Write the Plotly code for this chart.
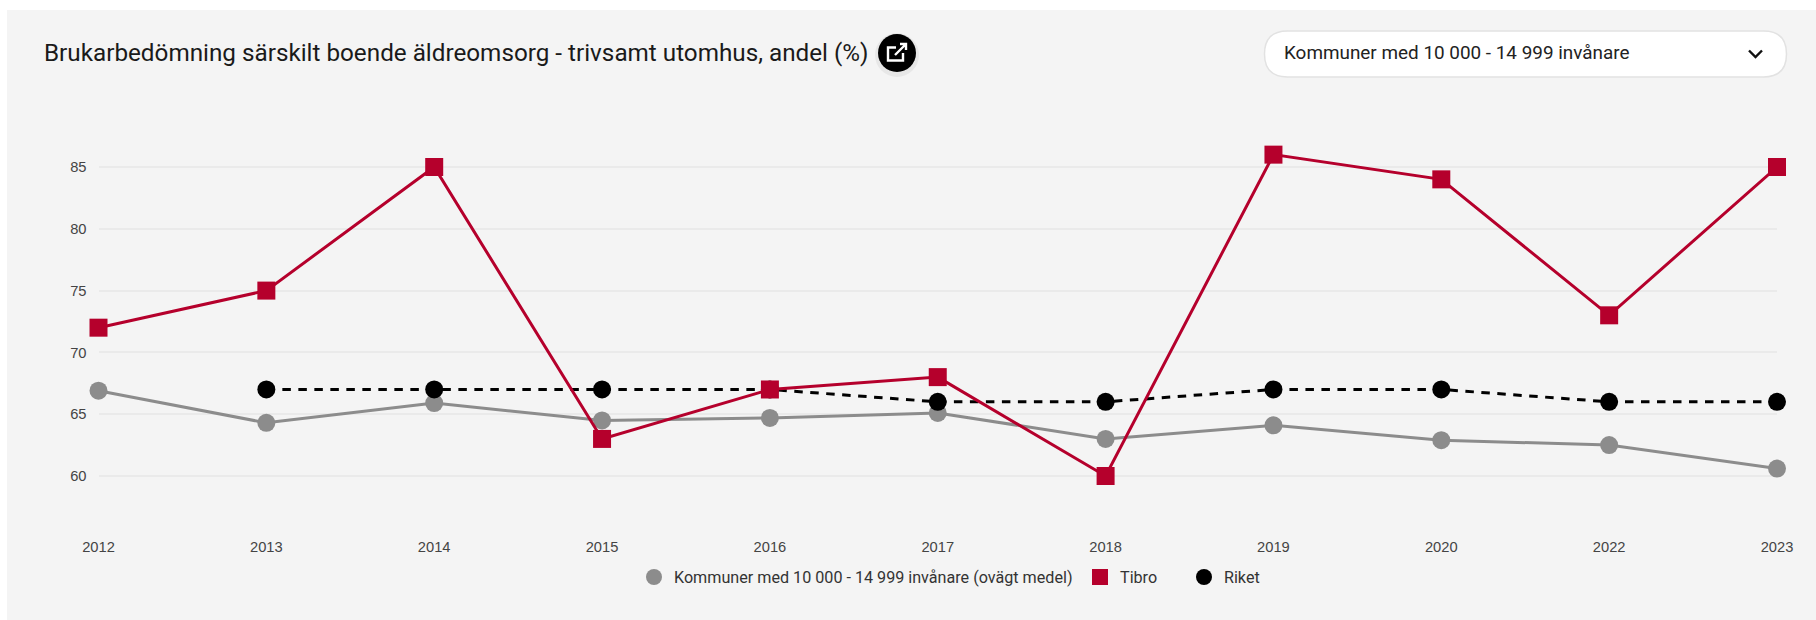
import plotly.graph_objects as go

W, H = 1816, 620
years = ["2012", "2013", "2014", "2015", "2016", "2017", "2018", "2019", "2020", "2022", "2023"]
kommuner = [66.9, 64.3, 65.9, 64.5, 64.7, 65.1, 63.0, 64.1, 62.9, 62.5, 60.6]
tibro = [72, 75, 85, 63, 67, 68, 60, 86, 84, 73, 85]
riket = [None, 67, 67, 67, 67, 66, 66, 67, 67, 66, 66]
y_ticks = [60, 65, 70, 75, 80, 85]
title_text = "Brukarbedömning särskilt boende äldreomsorg - trivsamt utomhus, andel (%)"
dropdown_text = "Kommuner med 10 000 - 14 999 invånare"
legend_k = "Kommuner med 10 000 - 14 999 invånare (ovägt medel)"
legend_t = "Tibro"
legend_r = "Riket"

GREY, RED, BLACK = "#8c8c8c", "#b5002c", "#000000"


def px(x):
    return x / W


def py(y):
    return 1 - y / H


def P(*pts):
    """Build an SVG path in paper space from pixel points; strings pass through."""
    out = []
    for p in pts:
        if isinstance(p, str):
            out.append(p)
        else:
            out.append(f"{px(p[0]):.6f},{py(p[1]):.6f}")
    return " ".join(out)


def rrect(x0, y0, x1, y1, r):
    return P("M", (x0 + r, y0), "L", (x1 - r, y0), "Q", (x1, y0), (x1, y0 + r), "L", (x1, y1 - r),
             "Q", (x1, y1), (x1 - r, y1), "L", (x0 + r, y1), "Q", (x0, y1), (x0, y1 - r),
             "L", (x0, y0 + r), "Q", (x0, y0), (x0 + r, y0), "Z")


fig = go.Figure()
fig.add_trace(go.Scatter(x=years, y=kommuner, mode="lines+markers", showlegend=False, cliponaxis=False,
                         line=dict(color=GREY, width=3), marker=dict(color=GREY, size=18, symbol="circle")))
fig.add_trace(go.Scatter(x=years, y=riket, mode="lines+markers", showlegend=False, connectgaps=False, cliponaxis=False,
                         line=dict(color=BLACK, width=3, dash="8.5px,7.5px"),
                         marker=dict(color=BLACK, size=18, symbol="circle")))
fig.add_trace(go.Scatter(x=years, y=tibro, mode="lines+markers", showlegend=False, cliponaxis=False,
                         line=dict(color=RED, width=3), marker=dict(color=RED, size=18, symbol="square")))
for name, color, sym, lg in [(legend_k, GREY, "circle", "legend"), (legend_t, RED, "square", "legend2"),
                             (legend_r, BLACK, "circle", "legend3")]:
    fig.add_trace(go.Scatter(x=[None], y=[None], mode="markers", name=name, legend=lg,
                             marker=dict(color=color, size=16, symbol=sym)))

shapes = [
    dict(type="rect", xref="paper", yref="paper", x0=px(7), x1=px(W), y0=py(H), y1=py(10),
         fillcolor="#f4f4f4", line_width=0, layer="below"),
    dict(type="path", xref="paper", yref="paper", path=rrect(1264.5, 31, 1786.5, 77, 23),
         fillcolor="#ffffff", line=dict(color="#e2e2e2", width=1.5), layer="below"),
    dict(type="path", xref="paper", yref="paper", path=P("M", (1749, 50.5), "L", (1755.5, 57), "L", (1762, 50.5)),
         line=dict(color="#111111", width=2.4)),
    dict(type="circle", xref="paper", yref="paper", x0=px(875), x1=px(919), y0=py(77), y1=py(33),
         fillcolor="rgba(0,0,0,0.05)", line_width=0),
    dict(type="circle", xref="paper", yref="paper", x0=px(878), x1=px(916), y0=py(72), y1=py(34),
         fillcolor="#000000", line_width=0),
    dict(type="path", xref="paper", yref="paper",
         path=P("M", (896, 47.5), "L", (888, 47.5), "L", (888, 60.5), "L", (903, 60.5), "L", (903, 53)),
         line=dict(color="#ffffff", width=2.4)),
    dict(type="path", xref="paper", yref="paper",
         path=P("M", (895, 55), "L", (906, 44), "M", (900, 44), "L", (906, 44), "L", (906, 50)),
         line=dict(color="#ffffff", width=2.4)),
]

annotations = [
    dict(text=title_text, xref="paper", yref="paper", x=px(42), y=py(53), xanchor="left", yanchor="middle",
         showarrow=False, font=dict(family="Roboto", size=24.25, color="#1a1a1a")),
    dict(text=dropdown_text, xref="paper", yref="paper", x=px(1282), y=py(53), xanchor="left", yanchor="middle",
         showarrow=False, font=dict(family="Roboto", size=18.9, color="#222222")),
]


def legend_at(x):
    return dict(orientation="h", x=px(x), y=py(577), xanchor="left", yanchor="middle",
                bgcolor="rgba(0,0,0,0)", itemsizing="trace", itemwidth=30,
                font=dict(family="Roboto", size=16.15, color="#333333"))


fig.update_layout(
    width=W, height=H, margin=dict(l=0, r=0, t=0, b=0),
    paper_bgcolor="#ffffff", plot_bgcolor="rgba(0,0,0,0)",
    shapes=shapes, annotations=annotations,
    font=dict(family="Liberation Sans", size=14, color="#444444"),
    legend=legend_at(634), legend2=legend_at(1080), legend3=legend_at(1184),
    xaxis=dict(type="category", categoryorder="array", categoryarray=years, range=[0, 10],
               domain=[px(98.5), px(1777)], showgrid=False, zeroline=False, showline=False, ticks="",
               tickfont=dict(size=14.7, color="#444444"), automargin=False, ticklabelstandoff=-2),
    yaxis=dict(range=[55, 90], domain=[py(537.8), py(105.2)], tickvals=y_ticks,
               showgrid=True, gridcolor="#eaeaea", gridwidth=2, zeroline=False, showline=False, ticks="",
               tickfont=dict(size=14.7, color="#444444"), automargin=False, ticklabelstandoff=11),
)

fig.write_html("out.html", config=dict(displayModeBar=False),
               post_script="document.body.style.margin='0';document.body.style.overflow='hidden';")
